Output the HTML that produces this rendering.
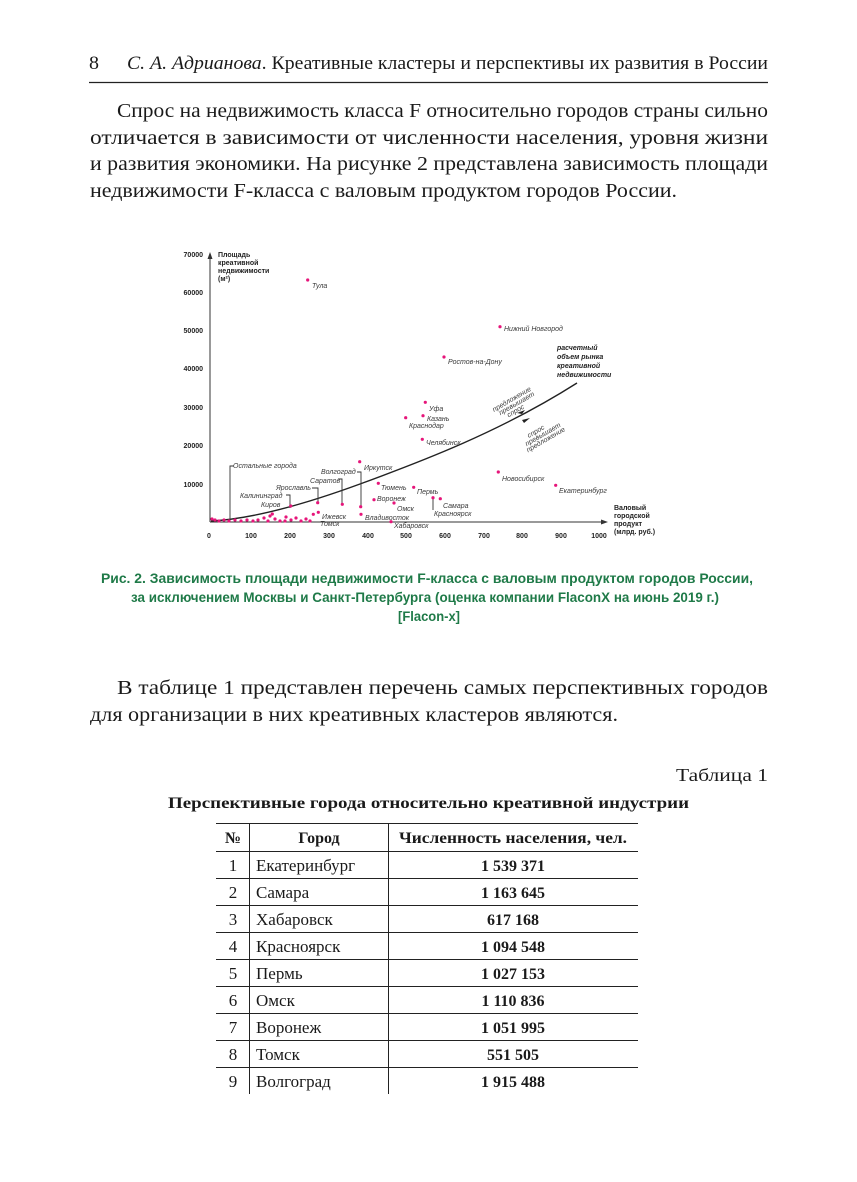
<!DOCTYPE html>
<html><head><meta charset="utf-8"><style>
html,body{margin:0;padding:0;background:#fff;}
svg{display:block}
.s{font-family:"Liberation Serif","Noto Serif CJK SC",serif;fill:#1a1a1a}
.c{font-family:"Liberation Sans",sans-serif;font-weight:bold;fill:#1f7a48;font-size:14px}
.t{font-family:"Liberation Sans",sans-serif;fill:#3a3a3a;font-size:7px;font-style:italic}
.a{font-family:"Liberation Sans",sans-serif;fill:#222;font-size:7px;font-weight:bold}
</style></head><body>
<svg width="857" height="1182" viewBox="0 0 857 1182" xmlns="http://www.w3.org/2000/svg">
<rect width="857" height="1182" fill="#fff"/>
<text class="s" x="89" y="69" font-size="19" textLength="10" lengthAdjust="spacingAndGlyphs">8</text>
<text class="s" x="127" y="69" font-size="19" textLength="641" lengthAdjust="spacingAndGlyphs"><tspan font-style="italic">С. А. Адрианова</tspan>. Креативные кластеры и перспективы их развития в России</text>
<line x1="89" y1="82.5" x2="768" y2="82.5" stroke="#222" stroke-width="1.2"/>
<g class="s" font-size="20">
<text x="117" y="117" textLength="651" lengthAdjust="spacingAndGlyphs">Спрос на недвижимость класса F относительно городов страны сильно</text>
<text x="90" y="144" textLength="678" lengthAdjust="spacingAndGlyphs">отличается в зависимости от численности населения, уровня жизни</text>
<text x="90" y="170" textLength="678" lengthAdjust="spacingAndGlyphs">и развития экономики. На рисунке 2 представлена зависимость площади</text>
<text x="90" y="197" textLength="587" lengthAdjust="spacingAndGlyphs">недвижимости F-класса с валовым продуктом городов России.</text>
</g>
<g>
<line x1="210" y1="522" x2="210" y2="256" stroke="#333" stroke-width="1"/>
<path d="M207.5,259 L210,252 L212.5,259 Z" fill="#333"/>
<line x1="210" y1="522" x2="603" y2="522" stroke="#333" stroke-width="1"/>
<path d="M601,519.5 L608,522 L601,524.5 Z" fill="#333"/>
<g class="a" text-anchor="end">
<text x="203" y="257">70000</text><text x="203" y="295">60000</text><text x="203" y="333">50000</text>
<text x="203" y="371">40000</text><text x="203" y="410">30000</text><text x="203" y="448">20000</text>
<text x="203" y="487">10000</text>
</g>
<g class="a" text-anchor="middle">
<text x="209" y="538">0</text><text x="251" y="538">100</text><text x="290" y="538">200</text><text x="329" y="538">300</text>
<text x="368" y="538">400</text><text x="406" y="538">500</text><text x="445" y="538">600</text><text x="484" y="538">700</text>
<text x="522" y="538">800</text><text x="561" y="538">900</text><text x="599" y="538">1000</text>
</g>
<g class="a"><text x="218" y="257">Площадь</text><text x="218" y="265">креативной</text><text x="218" y="273">недвижимости</text><text x="218" y="281">(м²)</text></g>
<g class="a"><text x="614" y="510">Валовый</text><text x="614" y="518">городской</text><text x="614" y="526">продукт</text><text x="614" y="534">(млрд. руб.)</text></g>
<g class="a" font-style="italic" font-size="7.5"><text x="557" y="350">расчетный</text><text x="557" y="359">объем рынка</text><text x="557" y="368">креативной</text><text x="557" y="377">недвижимости</text></g>
<path d="M211,521 C250,519 300,506 360,484 C420,462 500,432 577,383" fill="none" stroke="#222" stroke-width="1.4"/>
<g class="t" font-size="5.5">
<text transform="translate(494,412) rotate(-30)"><tspan x="0" y="0">предложение</tspan><tspan x="4" y="6">превышает</tspan><tspan x="10" y="12">спрос</tspan></text>
<text transform="translate(522,442) rotate(-30)"><tspan x="8" y="0">спрос</tspan><tspan x="2" y="6">превышает</tspan><tspan x="0" y="12">предложение</tspan></text>
</g>
<path d="M517,413 L525,410 L522,414 Z M522,420 L530,418 L524,423 Z" fill="#222"/>
<g stroke="#333" stroke-width="0.9" fill="none">
<polyline points="230,522 230,466 234,466"/>
<polyline points="342,505 342,479 338,479"/>
<polyline points="361,507 361,472 357,472"/>
<polyline points="318,504 318,488 312,488"/>
<polyline points="290,508 290,495 286,495"/>
<polyline points="433,510 433,497"/>
</g>
<g fill="#e6157a">
<circle cx="307.7" cy="280" r="1.6"/><circle cx="500" cy="326.7" r="1.6"/><circle cx="444" cy="357" r="1.6"/>
<circle cx="425.3" cy="402.3" r="1.6"/><circle cx="423" cy="415.7" r="1.6"/><circle cx="405.7" cy="417.7" r="1.6"/>
<circle cx="422.3" cy="439.3" r="1.6"/><circle cx="359.7" cy="461.7" r="1.6"/><circle cx="378.3" cy="483.3" r="1.6"/>
<circle cx="413.7" cy="487.3" r="1.6"/><circle cx="374" cy="499.7" r="1.6"/><circle cx="394" cy="503" r="1.6"/>
<circle cx="440.3" cy="498.7" r="1.6"/><circle cx="433" cy="497.7" r="1.6"/><circle cx="498.3" cy="472" r="1.6"/>
<circle cx="555.7" cy="485.3" r="1.6"/><circle cx="342.3" cy="504.3" r="1.6"/><circle cx="360.7" cy="506.7" r="1.6"/>
<circle cx="361" cy="514.3" r="1.6"/><circle cx="391" cy="521.7" r="1.6"/><circle cx="318.3" cy="512.3" r="1.6"/>
<circle cx="313.3" cy="514.3" r="1.6"/><circle cx="272.3" cy="514" r="1.6"/><circle cx="290.7" cy="506" r="1.6"/>
<circle cx="317.7" cy="502.7" r="1.6"/>
<circle cx="212" cy="519" r="1.6"/><circle cx="215" cy="520" r="1.6"/><circle cx="219" cy="521" r="1.6"/><circle cx="224" cy="520" r="1.6"/>
<circle cx="229" cy="521" r="1.6"/><circle cx="235" cy="520" r="1.6"/><circle cx="241" cy="521" r="1.6"/><circle cx="247" cy="520" r="1.6"/>
<circle cx="253" cy="521" r="1.6"/><circle cx="258" cy="520" r="1.6"/><circle cx="264" cy="518" r="1.6"/><circle cx="268" cy="521" r="1.6"/>
<circle cx="275" cy="519" r="1.6"/><circle cx="280" cy="521" r="1.6"/><circle cx="286" cy="517" r="1.6"/><circle cx="291" cy="520" r="1.6"/>
<circle cx="296" cy="518" r="1.6"/><circle cx="301" cy="521" r="1.6"/><circle cx="306" cy="519" r="1.6"/><circle cx="310" cy="521" r="1.6"/>
<circle cx="285" cy="521" r="1.6"/><circle cx="270" cy="516" r="1.6"/>
</g>
<g class="t">
<text x="312" y="288">Тула</text><text x="504" y="331">Нижний Новгород</text><text x="448" y="364">Ростов-на-Дону</text>
<text x="429" y="411">Уфа</text><text x="427" y="421">Казань</text><text x="409" y="428">Краснодар</text>
<text x="426" y="445">Челябинск</text><text x="364" y="470">Иркутск</text><text x="381" y="490">Тюмень</text>
<text x="417" y="494">Пермь</text><text x="377" y="501">Воронеж</text><text x="397" y="511">Омск</text>
<text x="443" y="508">Самара</text><text x="434" y="516">Красноярск</text><text x="502" y="481">Новосибирск</text>
<text x="559" y="493">Екатеринбург</text><text x="321" y="474">Волгоград</text><text x="310" y="483">Саратов</text>
<text x="276" y="490">Ярославль</text><text x="240" y="498">Калининград</text><text x="261" y="507">Киров</text>
<text x="322" y="519">Ижевск</text><text x="320" y="526">Томск</text><text x="365" y="520">Владивосток</text>
<text x="394" y="528">Хабаровск</text><text x="233" y="468">Остальные города</text>
</g>
</g>
<text class="c" x="101" y="583" textLength="652" lengthAdjust="spacingAndGlyphs">Рис. 2. Зависимость площади недвижимости F-класса с валовым продуктом городов России,</text>
<text class="c" x="131" y="602" textLength="588" lengthAdjust="spacingAndGlyphs">за исключением Москвы и Санкт-Петербурга (оценка компании FlaconX на июнь 2019 г.)</text>
<text class="c" x="398" y="621" textLength="62" lengthAdjust="spacingAndGlyphs">[Flacon-x]</text>
<g class="s" font-size="20">
<text x="117" y="694" textLength="651" lengthAdjust="spacingAndGlyphs">В таблице 1 представлен перечень самых перспективных городов</text>
<text x="90" y="721" textLength="528" lengthAdjust="spacingAndGlyphs">для организации в них креативных кластеров являются.</text>
</g>
<text class="s" x="676" y="781" font-size="18" textLength="92" lengthAdjust="spacingAndGlyphs">Таблица 1</text>
<text class="s" x="168" y="808" font-size="16" font-weight="bold" textLength="521" lengthAdjust="spacingAndGlyphs">Перспективные города относительно креативной индустрии</text>
<g stroke="#222" stroke-width="1">
<line x1="216" y1="823.5" x2="638" y2="823.5"/><line x1="216" y1="851.5" x2="638" y2="851.5"/>
<line x1="216" y1="878.5" x2="638" y2="878.5"/><line x1="216" y1="905.5" x2="638" y2="905.5"/>
<line x1="216" y1="932.5" x2="638" y2="932.5"/><line x1="216" y1="959.5" x2="638" y2="959.5"/>
<line x1="216" y1="986.5" x2="638" y2="986.5"/><line x1="216" y1="1013.5" x2="638" y2="1013.5"/>
<line x1="216" y1="1040.5" x2="638" y2="1040.5"/><line x1="216" y1="1067.5" x2="638" y2="1067.5"/>
<line x1="249.5" y1="823" x2="249.5" y2="1094"/><line x1="388.5" y1="823" x2="388.5" y2="1094"/>
</g>
<g class="s" font-size="16" font-weight="bold" text-anchor="middle">
<text x="233" y="843">№</text><text x="319" y="843">Город</text><text x="513" y="843" textLength="228" lengthAdjust="spacingAndGlyphs">Численность населения, чел.</text>
</g>
<g class="s" font-size="17">
<g text-anchor="middle"><text x="233" y="871">1</text><text x="233" y="898">2</text><text x="233" y="925">3</text><text x="233" y="952">4</text><text x="233" y="979">5</text><text x="233" y="1006">6</text><text x="233" y="1033">7</text><text x="233" y="1060">8</text><text x="233" y="1087">9</text></g>
<text x="256" y="871">Екатеринбург</text><text x="256" y="898">Самара</text><text x="256" y="925">Хабаровск</text><text x="256" y="952">Красноярск</text><text x="256" y="979">Пермь</text><text x="256" y="1006">Омск</text><text x="256" y="1033">Воронеж</text><text x="256" y="1060">Томск</text><text x="256" y="1087">Волгоград</text>
<g text-anchor="middle" font-weight="bold" font-size="16"><text x="513" y="871">1 539 371</text><text x="513" y="898">1 163 645</text><text x="513" y="925">617 168</text><text x="513" y="952">1 094 548</text><text x="513" y="979">1 027 153</text><text x="513" y="1006">1 110 836</text><text x="513" y="1033">1 051 995</text><text x="513" y="1060">551 505</text><text x="513" y="1087">1 915 488</text></g>
</g>
</svg>
</body></html>
